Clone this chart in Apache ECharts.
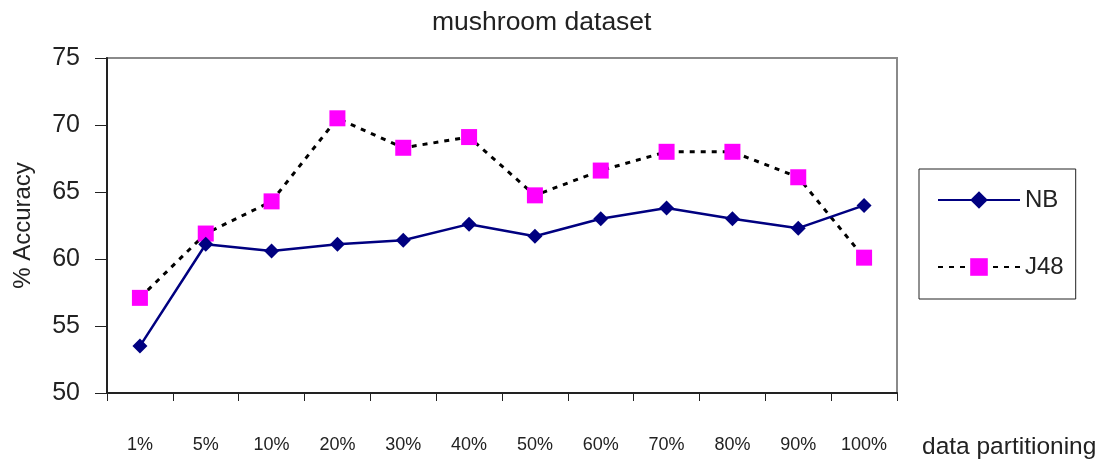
<!DOCTYPE html>
<html>
<head>
<meta charset="utf-8">
<script src="https://cdn.jsdelivr.net/npm/echarts@6/dist/echarts.min.js"></script>
<style>html,body{margin:0;padding:0;background:#fff;}#c{width:1106px;height:464px;}</style>
</head>
<body>
<div id="c"></div>
<script>
const categories = ['1%','5%','10%','20%','30%','40%','50%','60%','70%','80%','90%','100%'];
const nbValues  = [53.5, 61.1, 60.6, 61.1, 61.4, 62.6, 61.7, 63.0, 63.8, 63.0, 62.3, 64.0];
const j48Values = [57.1, 61.9, 64.3, 70.5, 68.3, 69.1, 64.75, 66.6, 68.0, 68.0, 66.1, 60.1];
const yTicks = { min: 50, max: 75, interval: 5 };
const titleText = 'mushroom dataset';
const yName = '% Accuracy';
const xName = 'data partitioning';

const FONT = '"Liberation Sans", Arial, Helvetica, sans-serif';
const chart = echarts.init(document.getElementById('c'), null, {renderer: 'canvas'});
chart.setOption({
  animation: false,
  backgroundColor: '#ffffff',
  textStyle: { fontFamily: FONT, color: '#222' },
  title: {
    text: titleText, left: 432, top: 9, padding: 0,
    textStyle: { fontFamily: FONT, fontSize: 26.5, fontWeight: 'normal', color: '#222' }
  },
  grid: {
    left: 107, right: 209, top: 58, bottom: 71,
    show: true, borderColor: '#8a8a8a', borderWidth: 2, backgroundColor: '#fff'
  },
  legend: {
    orient: 'vertical', left: 919, top: 169,
    padding: [19, 12, 20, 18],
    itemWidth: 82, itemHeight: 22, itemGap: 43,
    borderColor: '#222', borderWidth: 1,
    textStyle: { fontFamily: FONT, fontSize: 24, color: '#222', padding: [0,0,0,0] },
    data: ['NB', 'J48']
  },
  xAxis: {
    type: 'category', data: categories, boundaryGap: true,
    axisLine: { show: true, lineStyle: { color: '#222', width: 2 } },
    axisTick: { show: true, interval: 0, length: 8, alignWithLabel: false, lineStyle: { color: '#222', width: 1 } },
    axisLabel: { interval: 0, margin: 43, fontSize: 18, color: '#222', fontFamily: FONT },
    splitLine: { show: false }
  },
  yAxis: {
    type: 'value', min: yTicks.min, max: yTicks.max, interval: yTicks.interval,
    name: yName, nameLocation: 'middle', nameRotate: 90, nameGap: 72,
    nameTextStyle: { fontSize: 24, color: '#222', fontFamily: FONT },
    axisLine: { show: true, lineStyle: { color: '#222', width: 2 } },
    axisTick: { show: true, length: 12, lineStyle: { color: '#222', width: 1 } },
    axisLabel: { margin: 27, fontSize: 25, color: '#222', fontFamily: FONT },
    splitLine: { show: false }
  },
  graphic: [{
    type: 'text', left: 922, top: 435,
    style: { text: xName, fontSize: 24.5, fontFamily: FONT, fill: '#222' }
  }],
  series: [
    {
      name: 'J48', type: 'line', data: j48Values, z: 2,
      symbol: 'rect', symbolSize: 16,
      lineStyle: { color: '#000', width: 3, type: [5, 6] },
      itemStyle: { color: '#ff00ff', borderWidth: 0 }
    },
    {
      name: 'NB', type: 'line', data: nbValues, z: 3,
      symbol: 'diamond', symbolSize: 15,
      lineStyle: { color: '#000080', width: 2.5 },
      itemStyle: { color: '#000080', borderWidth: 0 }
    }
  ]
});
</script>
</body>
</html>
